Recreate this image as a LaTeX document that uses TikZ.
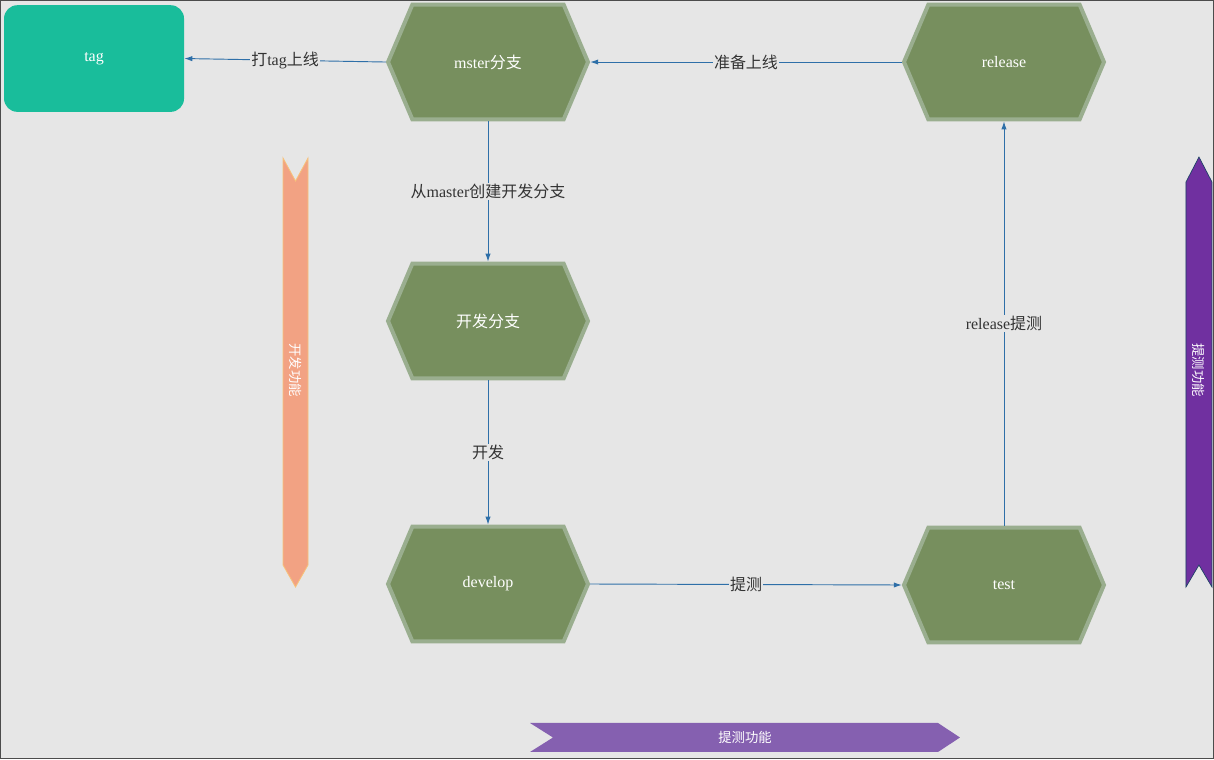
\documentclass[tikz,border=0pt]{standalone}
\usepackage{fontspec}
\setmainfont{Liberation Serif}
\newfontfamily\cjk{Noto Sans CJK SC}
\newcommand\zh[1]{{\cjk #1}}
\usetikzlibrary{shapes.symbols,arrows.meta}
\definecolor{bg}{HTML}{E6E6E6}
\definecolor{hexfill}{HTML}{778F5E}
\definecolor{hexline}{HTML}{9AAE8F}
\definecolor{tagc}{HTML}{19BD9B}
\definecolor{arr}{HTML}{2E6FA8}
\definecolor{orib}{HTML}{F2A283}
\definecolor{oline}{HTML}{F7C27A}
\definecolor{prib}{HTML}{7030A0}
\definecolor{prib2}{HTML}{8560B0}
\begin{document}
\begin{tikzpicture}[x=0.75pt,y=-0.75pt,
 hex/.style={signal,signal to=east and west,signal pointer angle=134,minimum width=150pt,minimum height=86pt,inner sep=0pt,fill=hexfill,draw=hexline,line width=3pt,text=white,font=\large},
 conn/.style={draw=arr,line width=0.7pt,-{Latex[length=6pt,width=4pt]}},
 lab/.style={fill=bg,inner sep=1pt,text=black!80,font=\large}]
\fill[bg] (0,0) rectangle (1214,759);
\draw[black!70,line width=0.8pt] (0.5,0.5) rectangle (1213.5,758.5);
\useasboundingbox (0,0) rectangle (1214,759);
\node[hex] (master) at (488,62) {mster\zh{分支}};
\node[hex] (release) at (1004,62) {release};
\node[hex] (devbr) at (488,321) {\zh{开发分支}};
\node[hex] (develop) at (488,584) {develop};
\node[hex] (test) at (1004,585) {test};
\node[fill=tagc,rounded corners=10pt,minimum width=135pt,minimum height=80pt,text=white,font=\large] (tag) at (94,58.5) {tag};
\draw[conn] (master.west) -- (tag.east) node[lab,pos=0.5] {\zh{打}tag\zh{上线}};
\draw[conn] (release.west) -- (master.east) node[lab,pos=0.5] {\zh{准备上线}};
\draw[conn] (master.south) -- (devbr.north) node[lab,pos=0.5] {\zh{从}master\zh{创建开发分支}};
\draw[conn] (devbr.south) -- (develop.north) node[lab,pos=0.5] {\zh{开发}};
\draw[conn] (develop.east) -- (test.west) node[lab,pos=0.5] {\zh{提测}};
\draw[conn] (test.north) -- (release.south) node[lab,pos=0.5] {release\zh{提测}};
% ribbons
\draw[fill=orib,draw=oline,line width=0.6pt] (283,158) -- (295.5,181) -- (308,158) -- (308,565) -- (295.5,587) -- (283,565) -- cycle;
\node[rotate=-90,text=white,font=\cjk\normalsize] (r1) at (295.5,370) {开发功能};
\draw[fill=prib,draw=arr!60!black,line width=0.5pt] (1199,157) -- (1212,182) -- (1212,587) -- (1199,565) -- (1186,587) -- (1186,182) -- cycle;
\node[rotate=-90,text=white,font=\cjk\normalsize] (r2) at (1199,370) {提测功能};
\fill[prib2] (530,723) -- (938,723) -- (960,737.5) -- (938,752) -- (530,752) -- (553,737.5) -- cycle;
\node[text=white,font=\cjk\normalsize] (r3) at (745,737.5) {提测功能};
\end{tikzpicture}
\end{document}
